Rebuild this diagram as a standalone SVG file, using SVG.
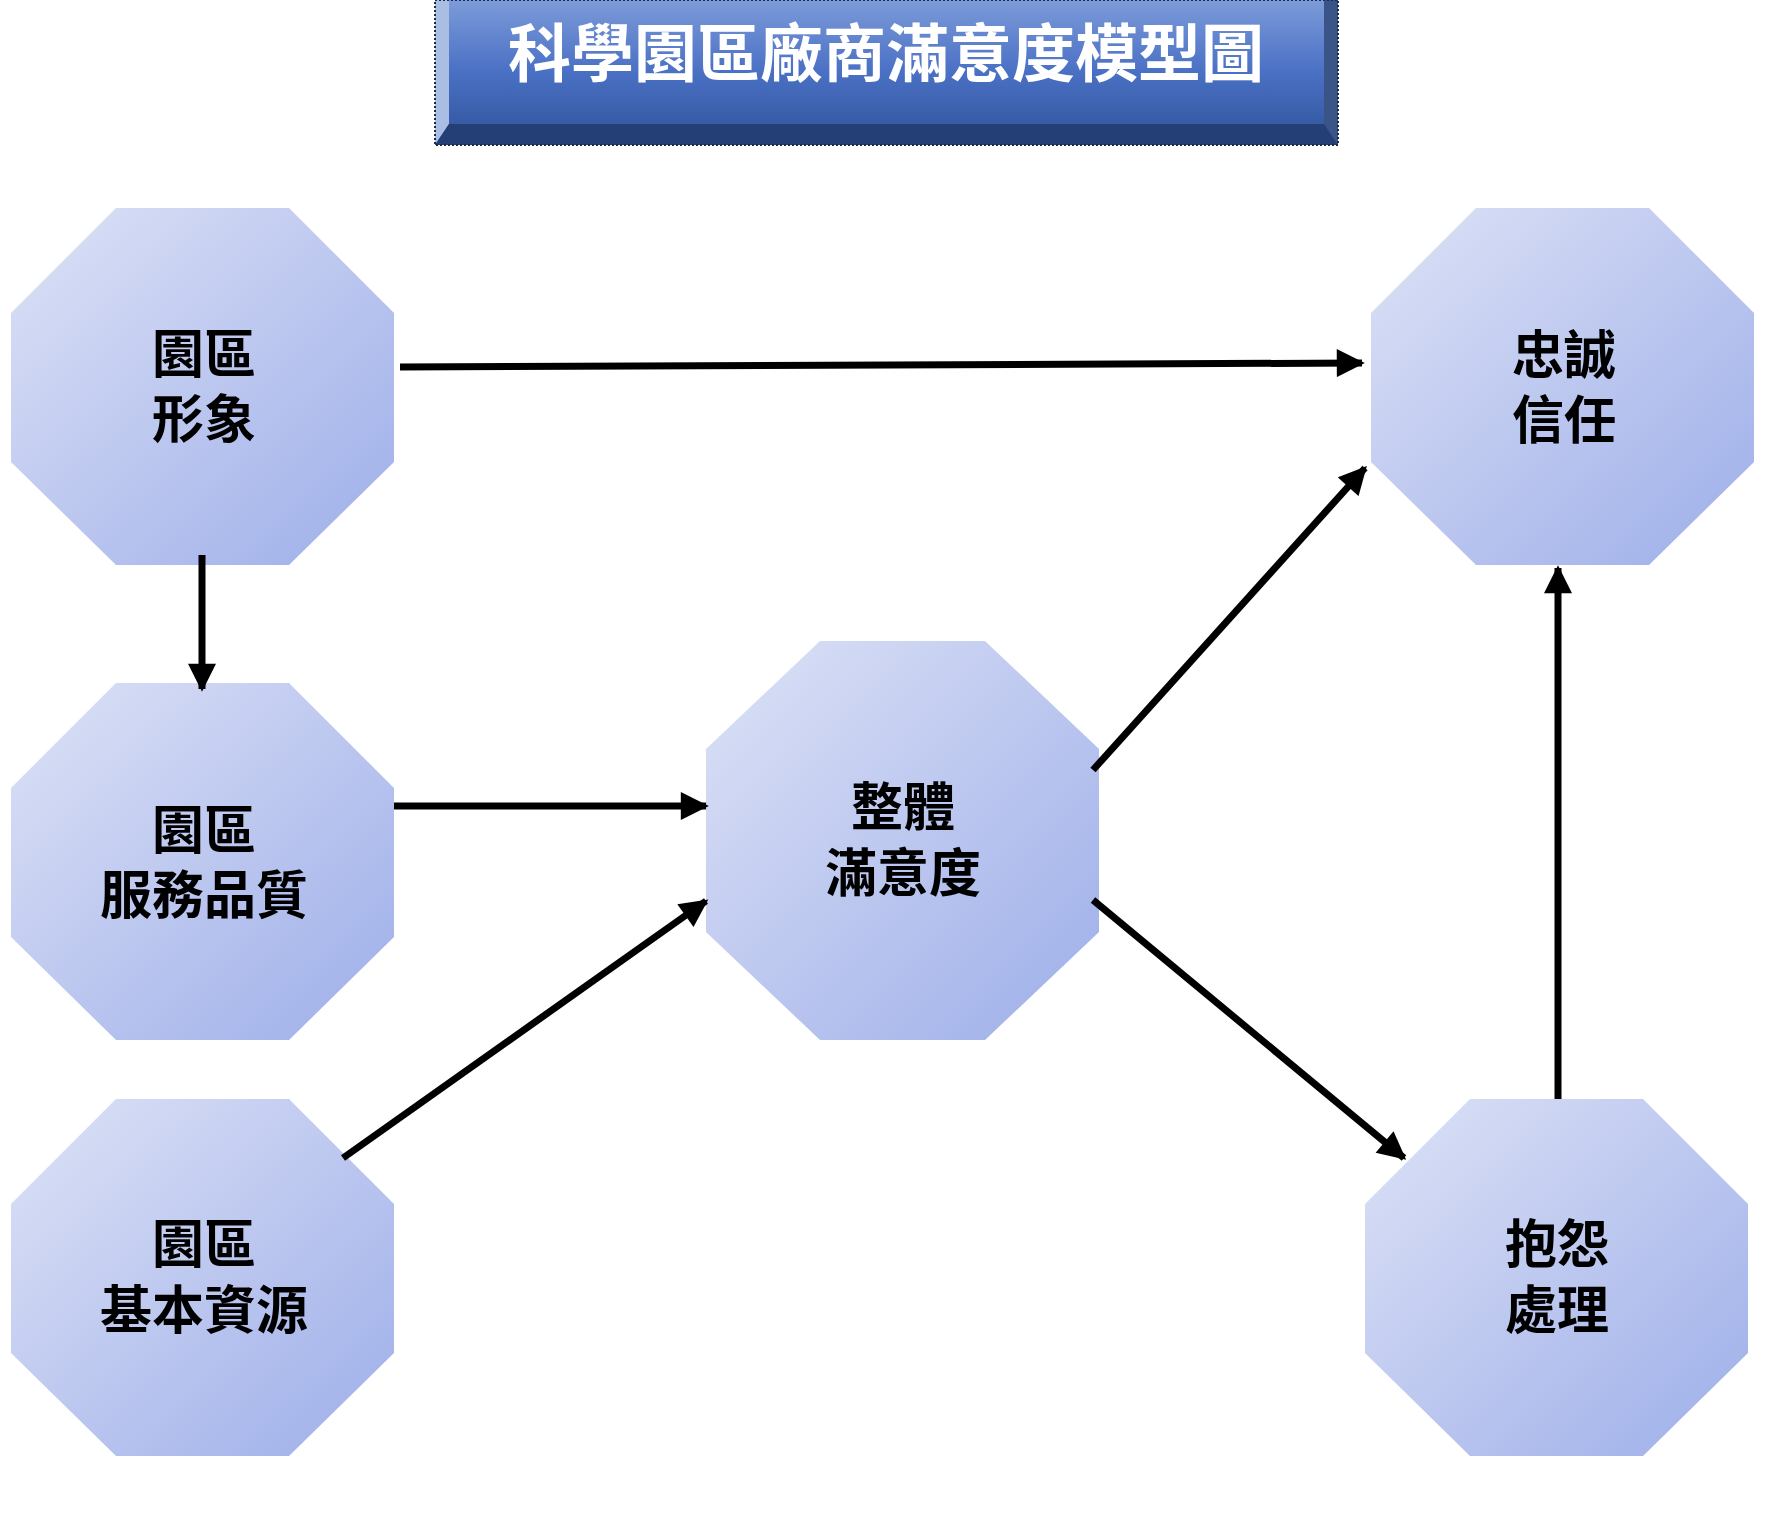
<svg xmlns="http://www.w3.org/2000/svg" width="1766" height="1531" viewBox="0 0 1766 1531">
<style>
.oct{fill:url(#g);}
.t{font-family:"Noto Sans CJK TC","Noto Sans CJK SC",sans-serif;font-weight:bold;font-size:52px;fill:#000;text-anchor:middle;}
.c{stroke:#000;stroke-width:7;fill:none;marker-end:url(#ah);}
</style>
<defs>
<linearGradient id="g" x1="0" y1="0" x2="1" y2="1"><stop offset="0" stop-color="#dde2f6"/><stop offset="1" stop-color="#9daee9"/></linearGradient>
<linearGradient id="tb" x1="0" y1="0" x2="0" y2="1"><stop offset="0" stop-color="#7d9bda"/><stop offset="0.5" stop-color="#4a70c4"/><stop offset="1" stop-color="#2f5398"/></linearGradient>
<marker id="ah" viewBox="0 0 10 10" refX="9" refY="5" markerWidth="4.2" markerHeight="4" orient="auto" markerUnits="strokeWidth"><path d="M0,0L10,5L0,10z" fill="#000"/></marker>
<path id="o" d="M105,0H278L383,105V254L278,357H105L0,254V105Z"/>
</defs>
<g id="title">
<rect x="435" y="0" width="903" height="145" fill="url(#tb)"/>
<path d="M435,0H449V124L435,145Z" fill="#aabde3"/>
<path d="M1338,0H1324V124L1338,145Z" fill="#3b5488"/>
<path d="M435,145L449,124H1324L1338,145Z" fill="#243f75"/>
<rect x="435" y="0" width="903" height="145" fill="none" stroke="#1a2a4a" stroke-width="2" stroke-dasharray="2,2"/>
<text x="886" y="76" font-family="'Noto Sans CJK TC','Noto Sans CJK SC',sans-serif" font-weight="bold" font-size="63" fill="#fff" text-anchor="middle">科學園區廠商滿意度模型圖</text>
</g>
<g id="n1"><use href="#o" x="11" y="208" class="oct"/><text class="t" x="204" y="373">園區</text><text class="t" x="204" y="438">形象</text></g>
<g id="n2"><use href="#o" x="11" y="683" class="oct"/><text class="t" x="204" y="849">園區</text><text class="t" x="204" y="914">服務品質</text></g>
<g id="n3"><use href="#o" x="11" y="1099" class="oct"/><text class="t" x="204" y="1263">園區</text><text class="t" x="204" y="1329">基本資源</text></g>
<g id="n4"><path d="M820,641H985L1099,749V932L985,1040H820L706,932V749Z" class="oct"/><text class="t" x="903" y="826">整體</text><text class="t" x="903" y="892">滿意度</text></g>
<g id="n5"><use href="#o" x="1371" y="208" class="oct"/><text class="t" x="1564" y="374">忠誠</text><text class="t" x="1564" y="439">信任</text></g>
<g id="n6"><use href="#o" x="1365" y="1099" class="oct"/><text class="t" x="1557" y="1263">抱怨</text><text class="t" x="1557" y="1329">處理</text></g>
<g id="connectors">
<line class="c" x1="400" y1="367" x2="1362" y2="363"/>
<line class="c" x1="202" y1="555" x2="202" y2="689"/>
<line class="c" x1="394" y1="806" x2="706" y2="806"/>
<line class="c" x1="343" y1="1158" x2="706" y2="901"/>
<line class="c" x1="1093" y1="770" x2="1365" y2="468"/>
<line class="c" x1="1093" y1="900" x2="1404" y2="1158"/>
<line class="c" x1="1558" y1="1099" x2="1558" y2="568"/>
</g>
</svg>
